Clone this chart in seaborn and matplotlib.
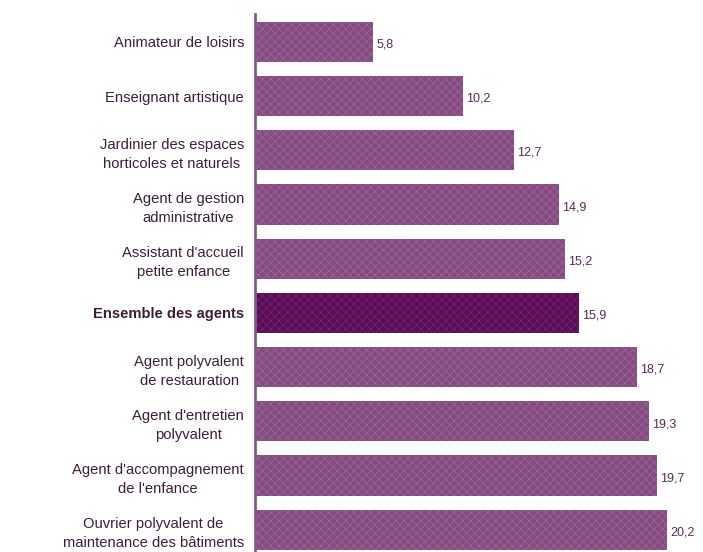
import matplotlib
matplotlib.use('Agg')
import matplotlib.pyplot as plt
import seaborn as sns
import pandas as pd

# données
metiers = [
    "Animateur de loisirs",
    "Enseignant artistique",
    "Jardinier des espaces\nhorticoles et naturels",
    "Agent de gestion\nadministrative",
    "Assistant d'accueil\npetite enfance",
    "Ensemble des agents",
    "Agent polyvalent\nde restauration",
    "Agent d'entretien\npolyvalent",
    "Agent d'accompagnement\nde l'enfance",
    "Ouvrier polyvalent de\nmaintenance des bâtiments",
]
valeurs = [5.8, 10.2, 12.7, 14.9, 15.2, 15.9, 18.7, 19.3, 19.7, 20.2]
etiquettes = ["5,8", "10,2", "12,7", "14,9", "15,2", "15,9", "18,7", "19,3", "19,7", "20,2"]
groupes = ["metier"] * 5 + ["ensemble"] + ["metier"] * 4

df = pd.DataFrame({"metier": metiers, "valeur": valeurs, "groupe": groupes})

sns.set_theme(style="white")
plt.rcParams['font.family'] = ['Liberation Sans', 'DejaVu Sans']
plt.rcParams['hatch.linewidth'] = 0.5

fig = plt.figure(figsize=(7.03, 5.52), dpi=100)
ax = fig.add_axes([0.363, 0.0, 0.637, 0.975])

palette = {"metier": "#864c82", "ensemble": "#5c0c58"}
sns.barplot(data=df, x="valeur", y="metier", hue="groupe", palette=palette,
            dodge=False, legend=False, width=0.74, ax=ax, saturation=1)

for p in ax.patches:
    p.set_hatch("xxxx")
    p.set_linewidth(0)
    if p.get_width() == 15.9:
        p.set_edgecolor("#6e2a6a")
    else:
        p.set_edgecolor("#9a6a98")

ax.set_xlim(0, 21.96)
ax.set_ylim(9.41, -0.517)
ax.set_xlabel("")
ax.set_ylabel("")
ax.set_xticks([])

for i, (v, t) in enumerate(zip(valeurs, etiquettes)):
    ax.text(v + 0.15, i + 0.05, t, va="center", ha="left", fontsize=9,
            color="#5a2a58")

for lab in ax.get_yticklabels():
    lab.set_fontsize(10.6)
    lab.set_color("#3c1e3c")
    lab.set_multialignment("center")
    lab.set_linespacing(1.45)
    if lab.get_text() == "Ensemble des agents":
        lab.set_fontweight("bold")
ax.tick_params(axis="y", length=0, pad=8)

for s in ["top", "right", "bottom"]:
    ax.spines[s].set_visible(False)
ax.spines["left"].set_color("#8a5a88")
ax.spines["left"].set_linewidth(2)

fig.savefig("out.png", dpi=100)
